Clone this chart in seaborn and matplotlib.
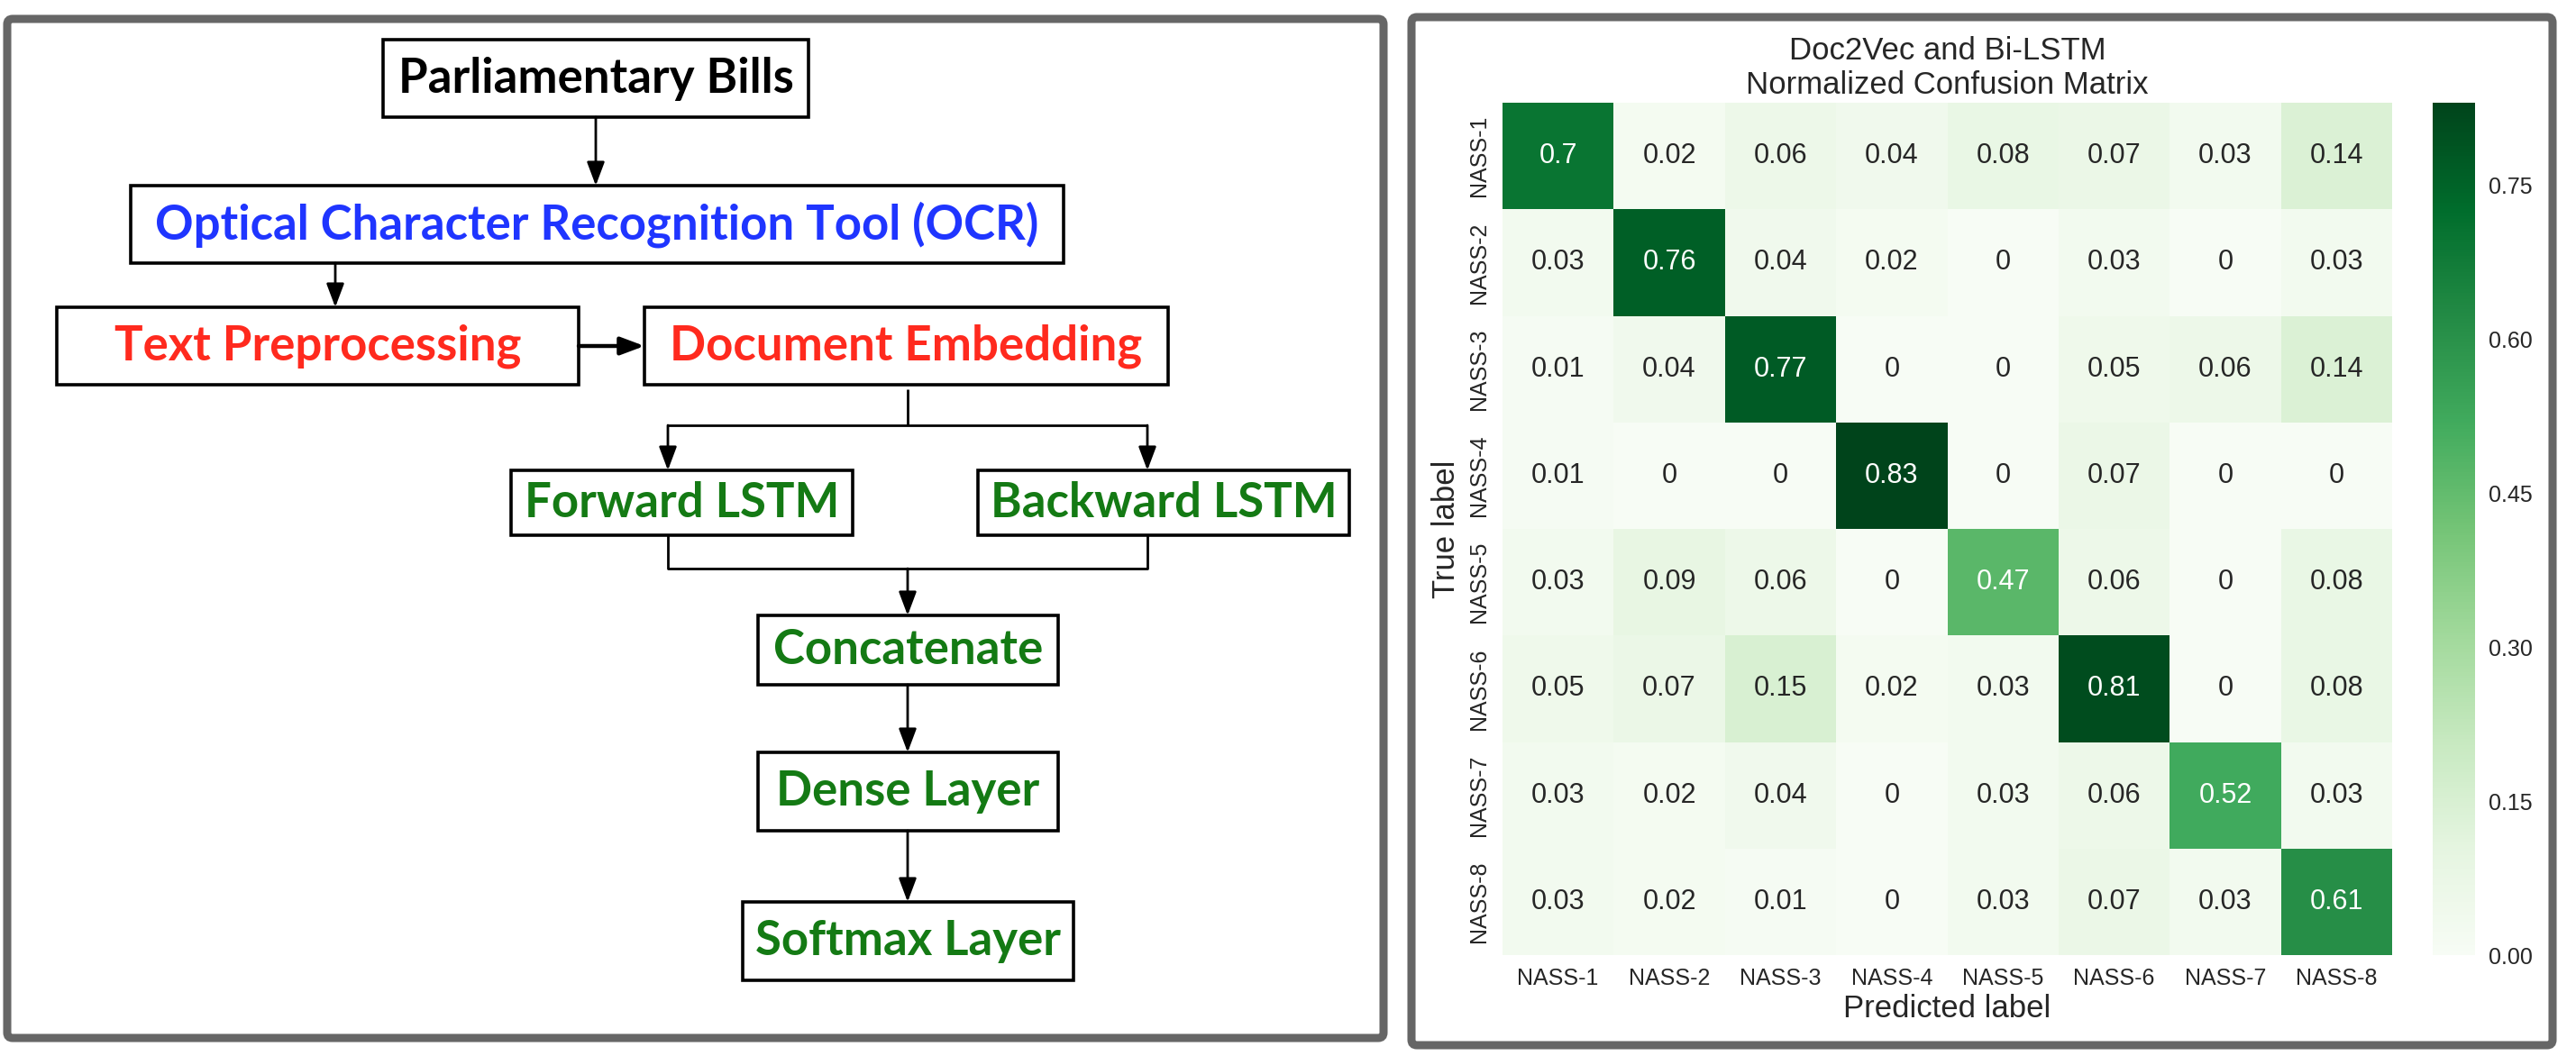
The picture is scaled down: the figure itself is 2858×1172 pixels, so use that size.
import matplotlib
matplotlib.use("Agg")
import matplotlib.pyplot as plt
from matplotlib.patches import FancyBboxPatch, Rectangle
import seaborn as sns
import pandas as pd
import numpy as np

sns.set_style("white")
plt.rcParams['font.family'] = ['Liberation Sans', 'DejaVu Sans']

# confusion matrix data (rows = true label, cols = predicted label)
class_labels = ["NASS-1", "NASS-2", "NASS-3", "NASS-4", "NASS-5", "NASS-6", "NASS-7", "NASS-8"]
row_nass1 = [0.7, 0.02, 0.06, 0.04, 0.08, 0.07, 0.03, 0.14]
row_nass2 = [0.03, 0.76, 0.04, 0.02, 0, 0.03, 0, 0.03]
row_nass3 = [0.01, 0.04, 0.77, 0, 0, 0.05, 0.06, 0.14]
row_nass4 = [0.01, 0, 0, 0.83, 0, 0.07, 0, 0]
row_nass5 = [0.03, 0.09, 0.06, 0, 0.47, 0.06, 0, 0.08]
row_nass6 = [0.05, 0.07, 0.15, 0.02, 0.03, 0.81, 0, 0.08]
row_nass7 = [0.03, 0.02, 0.04, 0, 0.03, 0.06, 0.52, 0.03]
row_nass8 = [0.03, 0.02, 0.01, 0, 0.03, 0.07, 0.03, 0.61]
cbar_ticks = [0.0, 0.15, 0.30, 0.45, 0.60, 0.75]

# flowchart boxes: label, colour
step_labels = ["Parliamentary Bills", "Optical Character Recognition Tool (OCR)",
               "Text Preprocessing", "Document Embedding", "Forward LSTM",
               "Backward LSTM", "Concatenate", "Dense Layer", "Softmax Layer"]
step_colors = ["black", "#1f35ff", "#ff2a1e", "#ff2a1e", "#147a14",
               "#147a14", "#147a14", "#147a14", "#147a14"]

W, H = 2858, 1172
fig = plt.figure(figsize=(W / 100, H / 100), dpi=100)

# background axes in pixel coordinates for the frames and the flowchart
bg = fig.add_axes([0, 0, 1, 1])
bg.set_xlim(0, W)
bg.set_ylim(H, 0)
bg.axis("off")

def frame(x0, y0, x1, y1):
    p = FancyBboxPatch((x0, y0), x1 - x0, y1 - y0,
                       boxstyle="round,pad=0,rounding_size=6",
                       ec="#666666", fc="white", lw=6.5)
    bg.add_patch(p)

frame(8, 21, 1535, 1152)
frame(1566, 19, 2832, 1160)

# box positions in pixels (x0, y0, x1, y1)
box_pos = [(425, 44, 897, 130), (145, 206, 1180, 292), (63, 341, 642, 427),
           (715, 341, 1296, 427), (567, 522, 946, 594), (1085, 522, 1497, 594),
           (841, 683, 1174, 760), (841, 835, 1174, 922), (824, 1001, 1191, 1088)]

for lab, col, (x0, y0, x1, y1) in zip(step_labels, step_colors, box_pos):
    bg.add_patch(Rectangle((x0, y0), x1 - x0, y1 - y0, fc="white", ec="black", lw=2.6))
    bg.text((x0 + x1) / 2, (y0 + y1) / 2, lab, color=col, ha="center", va="center",
            fontsize=38, fontweight="bold", family=["Lato", "DejaVu Sans"])

def arrow(x0, y0, x1, y1, lw=2.0):
    bg.annotate("", xy=(x1, y1), xytext=(x0, y0),
                arrowprops=dict(arrowstyle="-|>,head_length=0.8,head_width=0.3",
                                mutation_scale=20, lw=lw, color="black",
                                shrinkA=0, shrinkB=0))

def line(xs, ys):
    bg.plot(xs, ys, color="black", lw=2.0, solid_capstyle="butt")

arrow(661, 130, 661, 206)
arrow(372, 292, 372, 341)
arrow(642, 384, 715, 384, lw=3.2)
line([1007, 1007], [432, 472])
line([741, 1273], [472, 472])
arrow(741, 472, 741, 522)
arrow(1273, 472, 1273, 522)
line([741, 741, 1273, 1273], [594, 631, 631, 594])
arrow(1007, 631, 1007, 683)
arrow(1007, 760, 1007, 835)
arrow(1007, 922, 1007, 1001)

# confusion matrix heatmap
cm = pd.DataFrame([row_nass1, row_nass2, row_nass3, row_nass4,
                   row_nass5, row_nass6, row_nass7, row_nass8],
                  index=class_labels, columns=class_labels)

ax = fig.add_axes([1667 / W, 1 - 1060 / H, 987 / W, 946 / H])
cax = fig.add_axes([2699 / W, 1 - 1060 / H, 47 / W, 946 / H])

sns.heatmap(cm, annot=True, fmt="g", cmap="Greens", ax=ax, cbar_ax=cax,
            annot_kws={"size": 22},
            cbar_kws={"ticks": cbar_ticks, "format": "%.2f"})

ax.set_title("Doc2Vec and Bi-LSTM\nNormalized Confusion Matrix", fontsize=25,
             pad=7, linespacing=1.2)
ax.set_xlabel("Predicted label", fontsize=25, labelpad=4)
ax.set_ylabel("True label", fontsize=25, labelpad=6)
ax.set_xticklabels(class_labels, rotation=0, fontsize=18)
ax.set_yticklabels(class_labels, rotation=90, va="center", fontsize=18)
ax.tick_params(length=0, pad=10)
cax.tick_params(length=0, pad=11, labelsize=18)

fig.savefig("out.png", dpi=100)
